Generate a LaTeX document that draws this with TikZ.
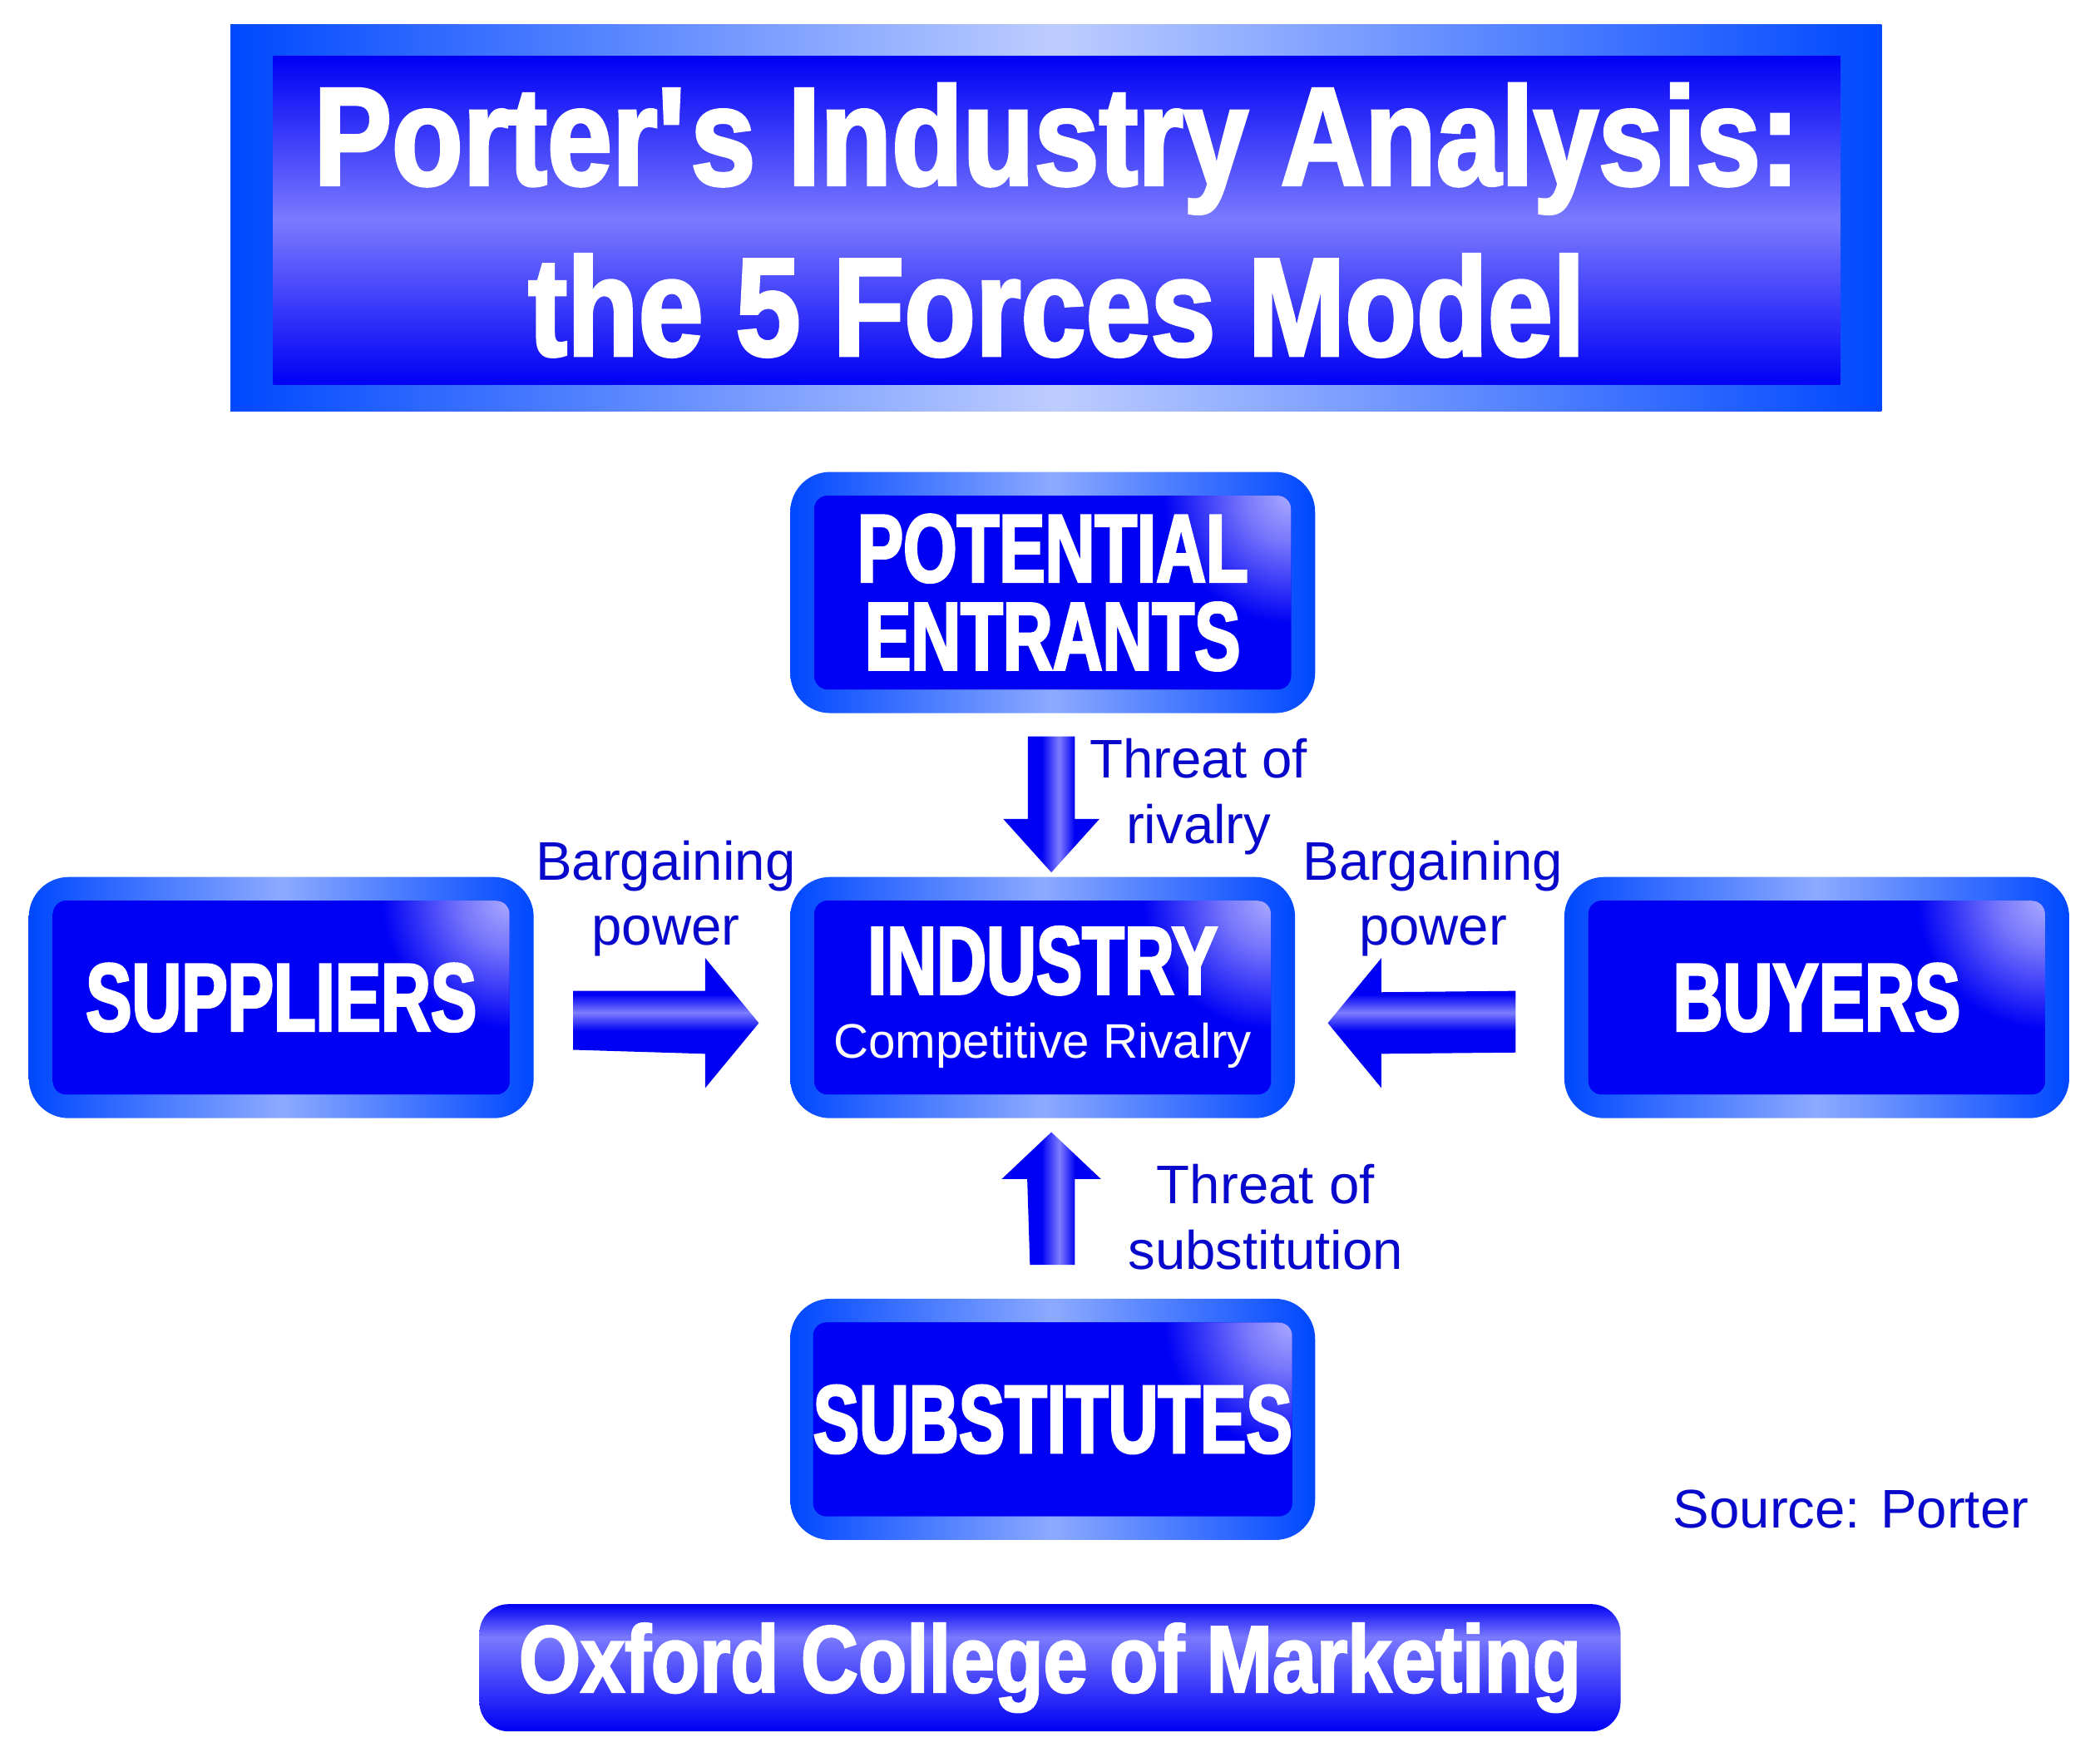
\documentclass[tikz,border=0pt]{standalone}
\usepackage{fontspec}
\setmainfont{Liberation Sans}
\newfontfamily\titlefont[FakeStretch=0.835,FakeBold=2.2]{Liberation Sans Bold}
\newfontfamily\boxfont[FakeStretch=0.715,FakeBold=2.5]{Liberation Sans Bold}
\usetikzlibrary{calc}

\definecolor{frameblue}{RGB}{0,72,255}
\definecolor{framelight}{RGB}{140,170,255}
\definecolor{titleedge}{RGB}{190,205,255}
\definecolor{boxblue}{RGB}{0,0,245}
\definecolor{glare}{RGB}{170,170,255}
\definecolor{titlelight}{RGB}{122,122,255}
\definecolor{shaftlight}{RGB}{125,125,255}
\definecolor{labelblue}{RGB}{8,8,205}

% light band in the upper part of the banner
\pgfdeclareverticalshading{bannershade}{100bp}{color(0bp)=(boxblue); color(25bp)=(boxblue); color(62bp)=(titlelight); color(75bp)=(boxblue); color(100bp)=(boxblue)}
% soft glare in the top right corner of a face, spread over the whole face
\pgfdeclareradialshading{glareshade}{\pgfpoint{0bp}{0bp}}{color(0bp)=(glare); color(2bp)=(glare!70!boxblue); color(5.5bp)=(boxblue); color(50bp)=(boxblue)}
% narrow light streak along the block arrows
\pgfdeclarehorizontalshading{vshaftshade}{100bp}{color(0bp)=(boxblue); color(45bp)=(boxblue); color(54bp)=(shaftlight); color(62bp)=(boxblue); color(100bp)=(boxblue)}
\pgfdeclareverticalshading{hshaftshade}{100bp}{color(0bp)=(boxblue); color(47bp)=(boxblue); color(54bp)=(shaftlight); color(61bp)=(boxblue); color(100bp)=(boxblue)}

\tikzset{
  boxrim/.style={rounded corners=4.8mm, left color=frameblue, right color=frameblue,
    middle color=framelight, minimum height=29mm, inner sep=0pt},
  boxface/.style={rounded corners=1.6mm, fill=boxblue, minimum height=23.3mm, inner sep=0pt,
    text=white, align=center, font=\boxfont\fontsize{33}{30.1}\selectfont,
    path picture={\shade[shading=glareshade]
      (path picture bounding box.north east) circle (70mm);}},
  wide/.style={minimum width=63.1mm},
  slim/.style={minimum width=60.7mm},
  wideface/.style={minimum width=57.3mm},
  slimface/.style={minimum width=54.9mm},
  vshaft/.style={shading=vshaftshade},
  hshaft/.style={shading=hshaftshade},
  forcelabel/.style={text=labelblue, align=center, font=\fontsize{18.6}{22.4}\selectfont}
}

\begin{document}
\begin{tikzpicture}[x=0.16103mm, y=-0.16103mm]

    \useasboundingbox (0,0) rectangle (1568,1312);

    % Title
    \node[minimum width=198.5mm, minimum height=46.5mm, inner sep=0pt,
      left color=frameblue, right color=frameblue, middle color=titleedge] (ttl) at (788.5,162.5) {};
    \node[minimum width=188.4mm, minimum height=39.5mm, inner sep=0pt,
      top color=boxblue, bottom color=boxblue, middle color=titlelight,
      text=white, align=center, font=\titlefont\fontsize{47.8}{58.4}\selectfont]
      (ttl-face) at (789,164.5) {Porter\textquotesingle s Industry Analysis:\\the 5 Forces Model};

    % The five forces
    \node[boxrim, wide] (ent) at (786,442.5) {};
    \node[boxface, wideface] (ent-face) at (ent) {POTENTIAL\\ENTRANTS};

    \node[boxrim, slim] (ind) at (778.5,745) {};
    \node[boxface, slimface] (ind-face) at (ind)
      {INDUSTRY\\[-8pt]\normalfont\fontsize{16.6}{22}\selectfont Competitive Rivalry};

    \node[boxrim, slim] (sup) at (210,745) {};
    \node[boxface, slimface] (sup-face) at (sup) {SUPPLIERS};

    \node[boxrim, slim] (buy) at (1356.5,745) {};
    \node[boxface, slimface] (buy-face) at (buy) {BUYERS};

    \node[boxrim, wide] (sub) at (786,1060) {};
    \node[boxface, wideface] (sub-face) at (sub) {SUBSTITUTES};

    % Block arrows into the industry
    \coordinate (dn-a) at ($(ent.south)+(-1,17)$);
    \coordinate (dn-b) at ($(ind.north)+(6.5,-3)$);
    \shade[vshaft] ($(dn-a)+(-17.5,0)$) -- ($(dn-a)+(17.5,0)$) -- ($(dn-b)+(17.5,-40)$)
      -- ($(dn-b)+(36,-40)$) -- (dn-b) -- ($(dn-b)+(-36,-40)$) -- ($(dn-b)+(-17.5,-40)$) -- cycle;

    \coordinate (up-a) at ($(sub.north)+(-1,-25)$);
    \coordinate (up-b) at ($(ind.south)+(6.5,10)$);
    \shade[vshaft] ($(up-a)+(-16,0)$) -- ($(up-b)+(-18,35)$) -- ($(up-b)+(-37,35)$)
      -- (up-b) -- ($(up-b)+(37,35)$) -- ($(up-b)+(17.5,35)$) -- ($(up-a)+(17.5,0)$) -- cycle;

    \coordinate (rt-a) at ($(sup.east)+(29,19)$);
    \coordinate (rt-b) at ($(ind.west)+(-23,19)$);
    \shade[hshaft] ($(rt-a)+(0,-24)$) -- ($(rt-b)+(-40,-24)$) -- ($(rt-b)+(-40,-48.5)$)
      -- (rt-b) -- ($(rt-b)+(-40,48.5)$) -- ($(rt-b)+(-40,23)$) -- ($(rt-a)+(0,20)$) -- cycle;

    \coordinate (lt-a) at ($(buy.west)+(-36,19)$);
    \coordinate (lt-b) at ($(ind.east)+(24,19)$);
    \shade[hshaft] ($(lt-a)+(0,-24)$) -- ($(lt-b)+(40,-23)$) -- ($(lt-b)+(40,-48.5)$)
      -- (lt-b) -- ($(lt-b)+(40,48.5)$) -- ($(lt-b)+(40,23)$) -- ($(lt-a)+(0,22)$) -- cycle;

    % Labels
    \node[forcelabel] (lbl-ent) at (895,595) {Threat of\\rivalry};
    \node[forcelabel] (lbl-sup) at (497,671) {Bargaining\\power};
    \node[forcelabel] (lbl-buy) at (1070,671) {Bargaining\\power};
    \node[forcelabel] (lbl-sub) at (945,909) {Threat of\\substitution};
    \node[forcelabel] (src) at (1382,1127) {Source: Porter};

    % Banner
    \node[shade, shading=bannershade, rounded corners=3.5mm, minimum width=137.2mm,
      minimum height=15.3mm, inner sep=0pt, text=white,
      font=\titlefont\fontsize{32.5}{33}\selectfont] (ocm) at (784,1245.5) {Oxford College of Marketing};

\end{tikzpicture}
\end{document}
